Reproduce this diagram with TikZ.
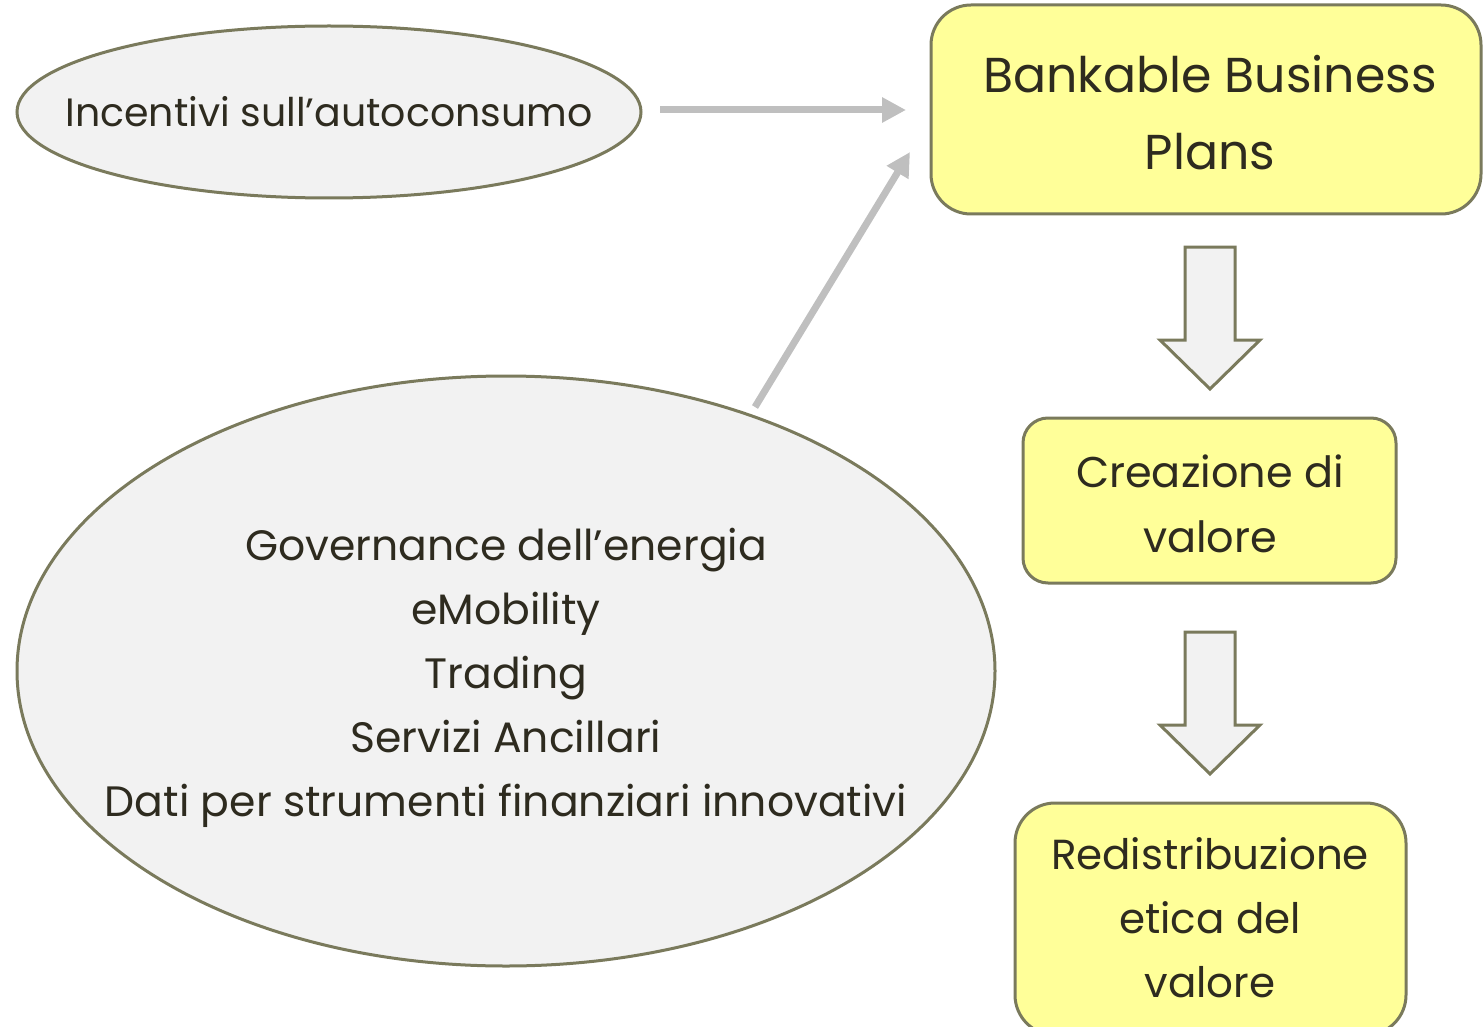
\documentclass[tikz,border=0pt]{standalone}
\usepackage{fontspec}
\setmainfont{Poppins}
\usetikzlibrary{arrows.meta}
\definecolor{olive}{HTML}{7A7A5C}
\definecolor{lgray}{HTML}{F2F2F2}
\definecolor{yel}{HTML}{FFFF99}
\definecolor{txt}{HTML}{2E2B1F}
\definecolor{arr}{HTML}{BFBFBF}
\tikzset{
  ellfill/.style={draw=olive, line width=3pt, fill=lgray},
  lbl/.style={text=txt, align=center, inner sep=0pt},
  ybox/.style={rectangle, draw=olive, line width=3pt, fill=yel, text=txt, align=center, inner sep=0pt},
  conn/.style={draw=arr, line width=7pt, -{Triangle[length=24pt,width=24pt]}},
  barrow/.style={draw=olive, line width=3pt, fill=lgray, line join=miter},
}
\begin{document}
\begin{tikzpicture}[x=1pt,y=-1pt]
\useasboundingbox (0,0) rectangle (1483,1027);
% ellipses
\draw[ellfill] (329,112) ellipse [x radius=312, y radius=86];
\node[lbl, font=\fontsize{39.5}{46}\selectfont] (inc) at (329,112) {Incentivi sull’autoconsumo};
\draw[ellfill] (506,671) ellipse [x radius=489, y radius=295];
\node[lbl, font=\fontsize{42.5}{64}\selectfont] (gov) at (506,678)
  {Governance dell’energia\\eMobility\\Trading\\Servizi Ancillari\\Dati per strumenti finanziari innovativi};
% boxes
\node[ybox, rounded corners=40pt, minimum width=550pt, minimum height=209pt] (bbp) at (1206,109.5) {};
\node[lbl, font=\fontsize{49}{77}\selectfont] (bbpt) at (1210,112.5) {Bankable Business\\Plans};
\node[ybox, rounded corners=25pt, minimum width=373pt, minimum height=165pt] (cre) at (1209.5,500.5) {};
\node[lbl, font=\fontsize{43}{65}\selectfont] (cret) at (1210,504) {Creazione di\\valore};
\node[ybox, rounded corners=40pt, minimum width=391pt, minimum height=232pt] (red) at (1210.5,919) {};
\node[lbl, font=\fontsize{42}{64}\selectfont] (redt) at (1210,918) {Redistribuzione\\etica del\\valore};
% block arrows
\draw[barrow] (1185,247) -- (1235,247) -- (1235,340) -- (1260,340) -- (1210,389) -- (1160,340) -- (1185,340) -- cycle;
\draw[barrow] (1185,632) -- (1235,632) -- (1235,725) -- (1260,725) -- (1210,774) -- (1160,725) -- (1185,725) -- cycle;
% connectors
\coordinate (a1s) at (660,110);
\coordinate (a1e) at (906,110);
\coordinate (a2s) at (755,407);
\coordinate (a2e) at (910,152);
\draw[conn] (a1s) -- (a1e);
\draw[conn] (a2s) -- (a2e);
\end{tikzpicture}
\end{document}
